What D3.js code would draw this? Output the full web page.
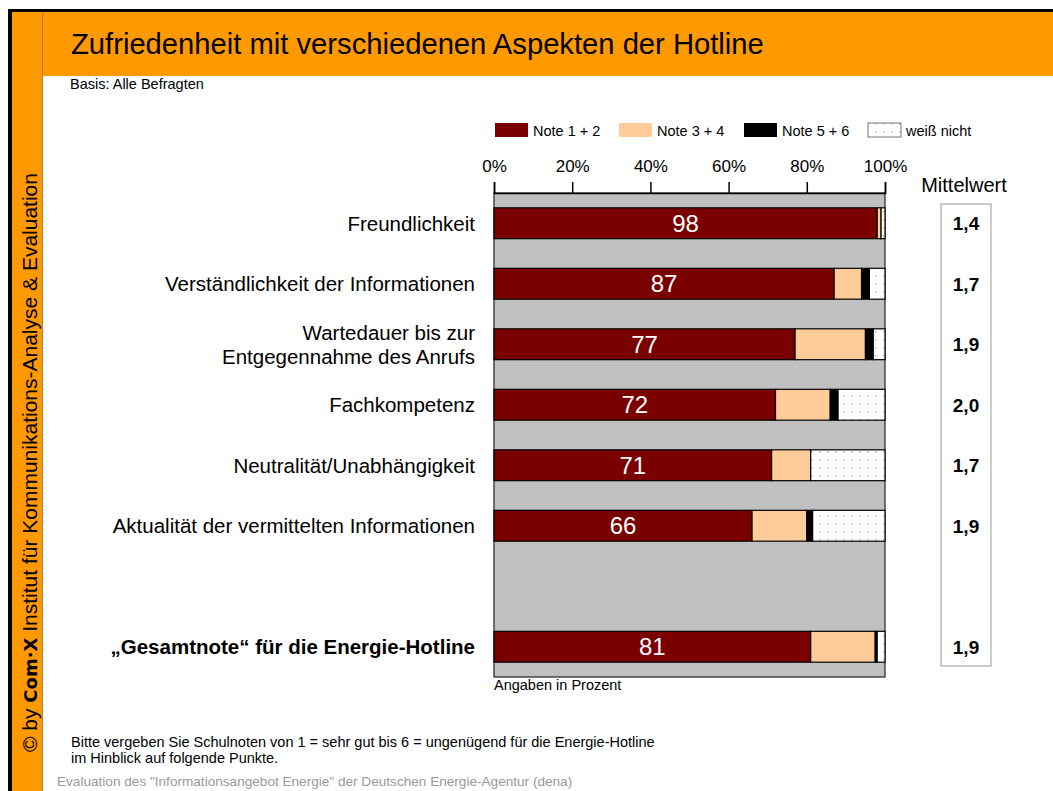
<!DOCTYPE html>
<html>
<head>
<meta charset="utf-8">
<script src="https://cdn.jsdelivr.net/npm/d3@7"></script>
<style>
  body { margin: 0; background: #fff; }
  svg { display: block; font-family: "Liberation Sans", Arial, sans-serif; }
</style>
</head>
<body>
<div class="chart"></div>
<script>
// Zufriedenheit mit der Hotline - gestapelte Balken
var categories = [
  "Freundlichkeit",
  "Verständlichkeit der Informationen",
  "Wartedauer bis zur|Entgegennahme des Anrufs",
  "Fachkompetenz",
  "Neutralität/Unabhängigkeit",
  "Aktualität der vermittelten Informationen",
  "",
  "„Gesamtnote“ für die Energie-Hotline"
];
var note12 = [98, 87, 77, 72, 71, 66, null, 81];
var note34 = [1, 7, 18, 14, 10, 14, null, 16.5];
var note56 = [0, 2, 2, 2, 0, 1.5, null, 0.5];
var weissNicht = [1, 4, 3, 12, 19, 18.5, null, 2];
var mittelwert = ["1,4", "1,7", "1,9", "2,0", "1,7", "1,9", null, "1,9"];

var seriesNames = ["Note 1 + 2", "Note 3 + 4", "Note 5 + 6", "weiß nicht"];
var seriesColors = ["#7a0000", "#ffcc99", "#000000", "url(#dots)"];
var xTicks = [0, 20, 40, 60, 80, 100];

var svgWidth = 1053;
var svgHeight = 791;

var svg = d3.select(".chart")
  .append("svg")
  .attr("width", svgWidth)
  .attr("height", svgHeight);

// dotted pattern for "weiß nicht"
var defs = svg.append("defs");
var pat = defs.append("pattern")
  .attr("id", "dots")
  .attr("patternUnits", "userSpaceOnUse")
  .attr("width", 8)
  .attr("height", 8);
pat.append("rect").attr("width", 8).attr("height", 8).attr("fill", "#fff");
pat.append("rect").attr("x", 3).attr("y", 3).attr("width", 1.3).attr("height", 1.3).attr("fill", "#aaa");

// frame: black edge, orange header and sidebar
svg.append("rect").attr("x", 8).attr("y", 9).attr("width", svgWidth - 8).attr("height", svgHeight - 9).attr("fill", "#000");
svg.append("rect").attr("x", 12).attr("y", 12).attr("width", svgWidth - 12).attr("height", svgHeight - 12).attr("fill", "#ff9900");
svg.append("rect").attr("x", 43).attr("y", 76).attr("width", svgWidth - 43).attr("height", svgHeight - 76).attr("fill", "#fff");
svg.append("line").attr("x1", 42.5).attr("x2", 42.5).attr("y1", 12).attr("y2", svgHeight)
  .attr("stroke", "#b08040").attr("stroke-width", 1);

svg.append("text")
  .attr("x", 71).attr("y", 54)
  .attr("font-size", 29.2)
  .attr("fill", "#000")
  .text("Zufriedenheit mit verschiedenen Aspekten der Hotline");

svg.append("text")
  .attr("x", 70).attr("y", 89)
  .attr("font-size", 14.5)
  .text("Basis: Alle Befragten");

// sidebar text
var side = svg.append("text")
  .attr("transform", "translate(36.5, 752) rotate(-90)")
  .attr("font-size", 21)
  .attr("fill", "#000");
side.append("tspan").text("© by ");
side.append("tspan").attr("font-weight", "bold").attr("font-family", "DejaVu Sans").attr("font-size", 18).text("Com·X");
side.append("tspan").text(" Institut für Kommunikations-Analyse & Evaluation");

// scales
var x = d3.scaleLinear().domain([0, 100]).range([494, 885]);
var y = d3.scaleBand()
  .domain(d3.range(categories.length))
  .range([193, 677])
  .paddingInner(0.49)
  .paddingOuter(0.245);

// grey plot background
svg.append("rect")
  .attr("x", x(0)).attr("y", 193)
  .attr("width", x(100) - x(0)).attr("height", 677 - 193)
  .attr("fill", "#c0c0c0")
  .attr("stroke", "#222").attr("stroke-width", 1.2);

// axis on top
var topAxis = d3.axisTop(x)
  .tickValues(xTicks)
  .tickFormat(d => d + "%")
  .tickSize(11)
  .tickPadding(10);
var axisG = svg.append("g")
  .attr("transform", "translate(0,193)")
  .call(topAxis);
axisG.select(".domain").attr("stroke", "#000").attr("stroke-width", 1.5);
axisG.selectAll(".tick line").attr("stroke", "#000").attr("stroke-width", 1.5);
axisG.selectAll(".tick text")
  .attr("font-size", 17)
  .attr("font-family", "Liberation Sans, Arial, sans-serif")
  .attr("fill", "#000");

// stacked data
var rows = categories.map(function (c, i) {
  return { idx: i, cat: c, vals: [note12[i], note34[i], note56[i], weissNicht[i]] };
}).filter(d => d.vals[0] != null);

rows.forEach(function (r) {
  var acc = 0;
  r.segs = r.vals.map(function (v, k) {
    var s = { k: k, x0: acc, x1: acc + v, v: v, idx: r.idx };
    acc += v;
    return s;
  });
});

var barG = svg.append("g");
rows.forEach(function (r) {
  barG.selectAll(null)
    .data(r.segs.filter(s => s.v > 0))
    .enter()
    .append("rect")
    .attr("x", s => x(s.x0))
    .attr("y", s => y(s.idx))
    .attr("width", s => x(s.x1) - x(s.x0))
    .attr("height", y.bandwidth())
    .attr("fill", s => seriesColors[s.k])
    .attr("stroke", "#000")
    .attr("stroke-width", 1.2);

  barG.append("text")
    .attr("x", x(r.vals[0] / 2))
    .attr("y", y(r.idx) + y.bandwidth() / 2)
    .attr("dy", "0.36em")
    .attr("text-anchor", "middle")
    .attr("font-size", 24)
    .attr("fill", "#fff")
    .text(Math.round(r.vals[0]));
});

// category labels
rows.forEach(function (r) {
  var lines = r.cat.split("|");
  var cy = y(r.idx) + y.bandwidth() / 2;
  var t = svg.append("text")
    .attr("x", 475)
    .attr("text-anchor", "end")
    .attr("font-size", 20.5)
    .attr("font-weight", r.idx === categories.length - 1 ? "bold" : "normal");
  lines.forEach(function (l, j) {
    t.append("tspan")
      .attr("x", 475)
      .attr("y", cy + (j - (lines.length - 1) / 2) * 24)
      .attr("dy", "0.36em")
      .text(l);
  });
});

// Mittelwert box
svg.append("text")
  .attr("x", 964).attr("y", 192)
  .attr("text-anchor", "middle")
  .attr("font-size", 20)
  .text("Mittelwert");
svg.append("rect")
  .attr("x", 941).attr("y", 204)
  .attr("width", 50).attr("height", 462)
  .attr("fill", "#fff")
  .attr("stroke", "#aaa").attr("stroke-width", 1.2);
rows.forEach(function (r) {
  svg.append("text")
    .attr("x", 966)
    .attr("y", y(r.idx) + y.bandwidth() / 2)
    .attr("dy", "0.36em")
    .attr("text-anchor", "middle")
    .attr("font-size", 19)
    .attr("font-weight", "bold")
    .text(mittelwert[r.idx]);
});

// legend
var legendX = [495, 619, 744, 868];
seriesNames.forEach(function (n, k) {
  svg.append("rect")
    .attr("x", legendX[k]).attr("y", 123)
    .attr("width", 33).attr("height", 14)
    .attr("fill", seriesColors[k])
    .attr("stroke", k === 3 ? "#555" : "none")
    .attr("stroke-width", 0.8);
  svg.append("text")
    .attr("x", legendX[k] + 38).attr("y", 136)
    .attr("font-size", 14.5)
    .text(n);
});

svg.append("text")
  .attr("x", 494).attr("y", 690)
  .attr("font-size", 14.5)
  .text("Angaben in Prozent");

svg.append("text")
  .attr("x", 71).attr("y", 747)
  .attr("font-size", 14.5)
  .text("Bitte vergeben Sie Schulnoten von 1 = sehr gut bis 6 = ungenügend für die Energie-Hotline");
svg.append("text")
  .attr("x", 71).attr("y", 763)
  .attr("font-size", 14.5)
  .text("im Hinblick auf folgende Punkte.");
svg.append("text")
  .attr("x", 57).attr("y", 786)
  .attr("font-size", 13.6)
  .attr("fill", "#999")
  .text("Evaluation des \"Informationsangebot Energie\" der Deutschen Energie-Agentur (dena)");
</script>
</body>
</html>
